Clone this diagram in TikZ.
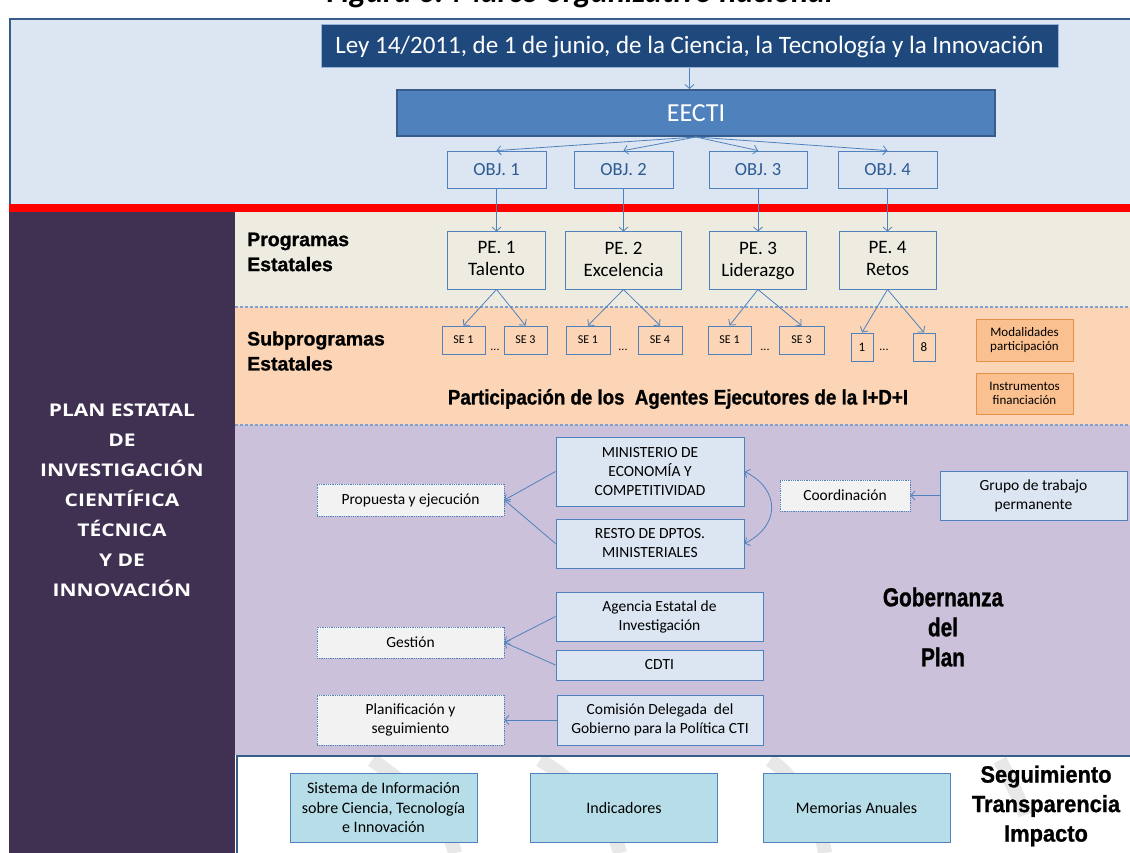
\documentclass[tikz,border=0pt]{standalone}
\usepackage{fontspec}
\setmainfont{Carlito}
\newfontfamily\openb[FakeStretch=1.2]{Open Sans}
\newfontfamily\impN[FakeStretch=1.0,BoldFeatures={FakeBold=1}]{Liberation Sans}
\newfontfamily\impP[FakeStretch=0.89,BoldFeatures={FakeBold=1}]{Liberation Sans}
\newfontfamily\impG[FakeStretch=0.8,BoldFeatures={FakeBold=1}]{Liberation Sans}
\newfontfamily\impS[FakeStretch=0.93,BoldFeatures={FakeBold=1}]{Liberation Sans}
\usetikzlibrary{arrows.meta}
\definecolor{ltblue}{HTML}{DCE6F2}
\definecolor{dkborder}{HTML}{385D8A}
\definecolor{navy}{HTML}{1F497D}
\definecolor{mblue}{HTML}{4F81BD}
\definecolor{lgtborder}{HTML}{95B3D7}
\definecolor{objtext}{HTML}{2C5A92}
\definecolor{beige}{HTML}{EEECE1}
\definecolor{peach}{HTML}{FBD5B5}
\definecolor{orfill}{HTML}{FAC090}
\definecolor{orbord}{HTML}{E5914A}
\definecolor{lav}{HTML}{CCC1DA}
\definecolor{dpurple}{HTML}{403152}
\definecolor{greyf}{HTML}{F2F2F2}
\definecolor{cyanf}{HTML}{B7DEE8}
\definecolor{dashc}{HTML}{7F9FCF}
\definecolor{wmark}{HTML}{E8E8E8}
\tikzset{
 base/.style={rectangle, inner sep=0pt, align=center, text=black},
 objbox/.style={base, draw=mblue, fill=ltblue, line width=0.8pt, text=objtext, font=\fontsize{18.5}{20}\selectfont},
 pebox/.style={base, draw=mblue, fill=beige, line width=1pt, font=\fontsize{19}{22}\selectfont, minimum height=57pt, execute at end node={\vphantom{g}}},
 sebox/.style={base, draw=mblue, fill=peach, line width=1pt, font=\fontsize{12}{14}\selectfont, minimum height=28pt},
 orbox/.style={base, draw=orbord, fill=orfill, line width=1pt, font=\fontsize{13}{14.5}\selectfont, minimum width=97pt},
 govbox/.style={base, draw=mblue, fill=ltblue, line width=1pt, font=\fontsize{15.5}{19}\selectfont},
 dotbox/.style={base, draw=mblue, densely dotted, fill=greyf, line width=0.8pt, font=\fontsize{15.5}{19}\selectfont, minimum width=187pt},
 botbox/.style={base, draw=mblue, fill=cyanf, line width=1pt, font=\fontsize{16}{19.5}\selectfont, minimum width=187pt, minimum height=69pt},
 head/.style={inner sep=0pt, font=\impN\bfseries\fontsize{19.5}{25}\selectfont, align=left, anchor=west},
 bighead/.style={inner sep=0pt, align=center},
 dots/.style={inner sep=0pt, font=\fontsize{12}{14}\selectfont},
 arr/.style={draw=mblue, line width=0.8pt, -{Straight Barb[length=4pt,width=9pt]}},
 sep/.style={draw=dashc, line width=1.3pt, dash pattern=on 3pt off 2pt},
}
\begin{document}
\begin{tikzpicture}[x=1pt,y=-1pt]
\useasboundingbox (0,0) rectangle (1130,853);
\clip (0,0) rectangle (1130,853);
% backgrounds
\fill[white] (0,0) rectangle (1130,853);
\node[font=\bfseries\itshape\fontsize{32}{36}\selectfont, anchor=base, inner sep=0pt] (title) at (580,3) {Figura 6. Marco organizativo nacional};
\draw[fill=ltblue, draw=dkborder, line width=2pt] (10,19) rectangle (1140,207);
\fill[dpurple] (9,212) rectangle (235,853);
\fill[beige] (235,212) rectangle (1130,307);
\fill[peach] (235,307) rectangle (1130,425);
\fill[lav] (235,425) rectangle (1130,755);
\draw[fill=white, draw=dkborder, line width=2pt] (237,756) rectangle (1140,860);
\fill[red] (9,204) rectangle (1130,212);
\draw[sep] (235,307) -- (1130,307);
\draw[sep] (235,425) -- (1130,425);
% watermark arcs
\begin{scope}
\clip (238,757) rectangle (1130,853);
\draw[wmark, line width=14pt] (372,760) .. controls (430,800) and (450,830) .. (455,853);
\draw[wmark, line width=14pt] (540,760) .. controls (590,790) and (615,830) .. (620,853);
\draw[wmark, line width=14pt] (770,760) .. controls (800,780) and (820,820) .. (825,853);
\draw[wmark, line width=14pt] (1000,760) .. controls (1010,780) and (1020,800) .. (1025,815);
\end{scope}
% top
\node[base, fill=navy, draw=lgtborder, line width=1pt, minimum width=737pt, minimum height=43pt, text=white, font=\fontsize{25}{28}\selectfont] (ley) at (689.5,46.5) {Ley 14/2011, de 1 de junio, de la Ciencia, la Tecnología y la Innovación};
\node[base, fill=mblue, draw=dkborder, line width=2pt, minimum width=598pt, minimum height=46pt, text=white, font=\fontsize{26}{29}\selectfont] (eecti) at (696,113) {EECTI};
\node[objbox, minimum width=99pt, minimum height=37pt] (obj1) at (496.5,169.5) {OBJ. 1};
\node[objbox, minimum width=99pt, minimum height=37pt] (obj2) at (623.5,169.5) {OBJ. 2};
\node[objbox, minimum width=98pt, minimum height=37pt] (obj3) at (758,169.5) {OBJ. 3};
\node[objbox, minimum width=99pt, minimum height=37pt] (obj4) at (887.5,169.5) {OBJ. 4};
\draw[arr] (ley.south) -- (ley.south |- eecti.north);
\foreach \o in {obj1,obj2,obj3,obj4} \draw[arr] (eecti.south) -- (\o.north);
% left column
\node[bighead, text=white, font=\openb\bfseries\fontsize{17.5}{30}\selectfont] (plan) at (122,500) {PLAN ESTATAL\\DE\\INVESTIGACIÓN\\CIENTÍFICA\\TÉCNICA\\Y DE\\INNOVACIÓN};
% programas
\node[head] (hprog) at (247,252) {Programas\\Estatales};
\node[pebox, minimum width=98pt] (pe1) at (496.5,260.5) {PE. 1\\Talento};
\node[pebox, minimum width=116pt] (pe2) at (623.5,260.5) {PE. 2\\Excelencia};
\node[pebox, minimum width=97pt] (pe3) at (758,260.5) {PE. 3\\Liderazgo};
\node[pebox, minimum width=97pt] (pe4) at (887.5,260.5) {PE. 4\\Retos};
\draw[arr] (obj1.south) -- (pe1.north);
\draw[arr] (obj2.south) -- (pe2.north);
\draw[arr] (obj3.south) -- (pe3.north);
\draw[arr] (obj4.south) -- (pe4.north);
% subprogramas
\node[head] (hsub) at (247,351) {Subprogramas\\Estatales};
\node[sebox, minimum width=43pt] (se1a) at (463.5,340) {SE 1};
\node[sebox, minimum width=43pt] (se3a) at (525.5,340) {SE 3};
\node[sebox, minimum width=44pt] (se1b) at (588,340) {SE 1};
\node[sebox, minimum width=44pt] (se4b) at (660,340) {SE 4};
\node[sebox, minimum width=43pt] (se1c) at (729.5,340) {SE 1};
\node[sebox, minimum width=45pt] (se3c) at (801.5,340) {SE 3};
\node[sebox, minimum width=22pt, font=\fontsize{13}{15}\selectfont] (n1) at (862,347) {1};
\node[sebox, minimum width=22pt, font=\fontsize{13}{15}\selectfont] (n8) at (924,347) {8};
\node[dots] (d1) at (495,350) {...};
\node[dots] (d2) at (623,350) {...};
\node[dots] (d3) at (765,350) {...};
\node[dots] (d4) at (884,350) {...};
\draw[arr] (pe1.south) -- (se1a.north);
\draw[arr] (pe1.south) -- (se3a.north);
\draw[arr] (pe2.south) -- (se1b.north);
\draw[arr] (pe2.south) -- (se4b.north);
\draw[arr] (pe3.south) -- (se1c.north);
\draw[arr] (pe3.south) -- (se3c.north);
\draw[arr] (pe4.south) -- (n1.north);
\draw[arr] (pe4.south) -- (n8.north);
\node[orbox, minimum height=42pt] (modal) at (1024.5,340) {Modalidades\\participación};
\node[orbox, minimum height=41pt] (instr) at (1024.5,393.5) {Instrumentos\\financiación};
\node[bighead, font=\impP\bfseries\fontsize{21}{25}\selectfont] (partic) at (678,399) {Participación de los\ \ Agentes Ejecutores de la I+D+I};
% gobernanza
\node[govbox, minimum width=188pt, minimum height=69pt] (min) at (650,471.5) {MINISTERIO DE\\ECONOMÍA Y\\COMPETITIVIDAD};
\node[govbox, minimum width=188pt, minimum height=49pt] (resto) at (650,543.5) {RESTO DE DPTOS.\\MINISTERIALES};
\node[dotbox, minimum height=32pt] (prop) at (410.5,500) {Propuesta y ejecución};
\node[dotbox, minimum width=130pt, minimum height=31pt] (coord) at (845,495.5) {Coordinación};
\node[govbox, minimum width=187pt, minimum height=49pt] (grupo) at (1033.5,495.5) {Grupo de trabajo\\permanente};
\node[govbox, minimum width=207pt, minimum height=49pt] (agencia) at (659.5,616.5) {Agencia Estatal de\\Investigación};
\node[govbox, minimum width=207pt, minimum height=30pt] (cdti) at (659.5,665) {CDTI};
\node[dotbox, minimum height=31pt] (gestion) at (410.5,642.5) {Gestión};
\node[govbox, minimum width=206pt, minimum height=50pt] (comision) at (660,720) {Comisión Delegada\ \ del\\Gobierno para la Política CTI};
\node[dotbox, minimum height=50pt] (planif) at (410.5,720) {Planificación y\\seguimiento};
\draw[arr] (min.west) -- (prop.east);
\draw[arr] (resto.west) -- (prop.east);
\draw[draw=mblue, line width=0.8pt, {Straight Barb[length=4pt,width=9pt]}-{Straight Barb[length=4pt,width=9pt]}] (min.east) .. controls +(36,18) and +(36,-18) .. (resto.east);
\draw[arr] (grupo.west) -- (coord.east);
\draw[arr] (agencia.west) -- (gestion.east);
\draw[arr] (cdti.west) -- (gestion.east);
\draw[arr] (comision.west) -- (planif.east);
\node[bighead, font=\impG\bfseries\fontsize{26}{30}\selectfont] (gob) at (943,627) {Gobernanza\\del\\Plan};
% bottom
\node[botbox] (sist) at (383.5,807.5) {Sistema de Información\\sobre Ciencia, Tecnología\\e Innovación};
\node[botbox] (indic) at (624,807.5) {Indicadores};
\node[botbox] (memo) at (856.5,807.5) {Memorias Anuales};
\node[bighead, font=\impS\bfseries\fontsize{23.5}{29.5}\selectfont] (segu) at (1046,806) {Seguimiento\\Transparencia\\Impacto};
\end{tikzpicture}
\end{document}
